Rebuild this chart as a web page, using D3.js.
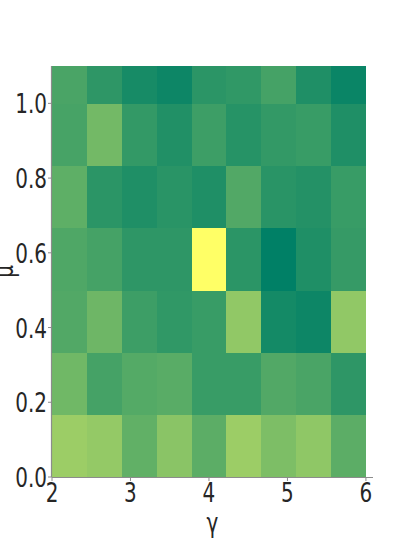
<!DOCTYPE html>
<html>
<head>
<meta charset="utf-8">
<script src="https://cdn.jsdelivr.net/npm/d3@7"></script>
<style>
  body { margin: 0; background: #fff; }
  svg { display: block; }
</style>
</head>
<body>
<svg id="chart" width="415" height="545"></svg>
<script>
// gamma columns (left edges), mu rows (bottom edges)
var gammaEdges = [2, 2.444, 2.889, 3.333, 3.778, 4.222, 4.667, 5.111, 5.556, 6]
var muEdges = [0, 0.1667, 0.3333, 0.5, 0.6667, 0.8333, 1.0, 1.1667]

// cell values, rows from bottom (mu=0) to top
var row0 = [0.61, 0.58, 0.38, 0.54, 0.36, 0.61, 0.49, 0.56, 0.36]
var row1 = [0.44, 0.27, 0.33, 0.35, 0.22, 0.22, 0.32, 0.29, 0.18]
var row2 = [0.32, 0.43, 0.24, 0.19, 0.22, 0.57, 0.08, 0.05, 0.57]
var row3 = [0.31, 0.27, 0.18, 0.18, 1.00, 0.17, 0.00, 0.12, 0.21]
var row4 = [0.37, 0.17, 0.12, 0.16, 0.12, 0.32, 0.16, 0.14, 0.22]
var row5 = [0.28, 0.45, 0.20, 0.13, 0.24, 0.15, 0.20, 0.22, 0.12]
var row6 = [0.29, 0.18, 0.09, 0.05, 0.17, 0.19, 0.27, 0.12, 0.04]
var rows = [row0, row1, row2, row3, row4, row5, row6]

var xTicks = [2, 3, 4, 5, 6]
var yTicks = [0.0, 0.2, 0.4, 0.6, 0.8, 1.0]

var svg = d3.select("#chart")

var plotLeft = 52, plotRight = 373, plotTop = 66, plotBottom = 477
var xScale = d3.scaleLinear().domain([2, 6.09]).range([plotLeft, plotRight])
var yScale = d3.scaleLinear().domain([0, 1.1]).range([plotBottom, plotTop])

// matplotlib "summer" colormap
var summer = function(t) { return d3.rgb(255 * t, 255 * (0.5 + 0.5 * t), 102) }

svg.append("clipPath").attr("id", "plotClip")
  .append("rect")
  .attr("x", plotLeft).attr("y", plotTop)
  .attr("width", plotRight - plotLeft).attr("height", plotBottom - plotTop)

var cells = []
rows.forEach(function(r, j) {
  r.forEach(function(v, i) { cells.push({i: i, j: j, v: v}) })
})

svg.append("g")
  .attr("clip-path", "url(#plotClip)")
  .attr("shape-rendering", "crispEdges")
  .selectAll("rect")
  .data(cells)
  .enter().append("rect")
  .attr("x", function(d) { return xScale(gammaEdges[d.i]) })
  .attr("y", function(d) { return yScale(muEdges[d.j + 1]) })
  .attr("width", function(d) { return xScale(gammaEdges[d.i + 1]) - xScale(gammaEdges[d.i]) + 0.5 })
  .attr("height", function(d) { return yScale(muEdges[d.j]) - yScale(muEdges[d.j + 1]) + 0.5 })
  .attr("fill", function(d) { return summer(d.v) })

var tickColor = "#8c8c8c"
var squeeze = 0.74

// x axis
var xAxis = svg.append("g")
xAxis.append("line")
  .attr("x1", plotLeft).attr("x2", plotRight)
  .attr("y1", plotBottom + 0.5).attr("y2", plotBottom + 0.5)
  .attr("stroke", tickColor).attr("stroke-width", 1.2)
xTicks.forEach(function(t) {
  var x = xScale(t)
  xAxis.append("line")
    .attr("x1", x).attr("x2", x)
    .attr("y1", plotBottom).attr("y2", plotBottom + 4)
    .attr("stroke", tickColor).attr("stroke-width", 1)
  xAxis.append("text")
    .attr("transform", "translate(" + x + "," + (plotBottom + 25) + ")scale(" + squeeze + ",1)")
    .attr("text-anchor", "middle")
    .attr("font-family", "DejaVu Sans")
    .attr("font-size", "27px")
    .attr("fill", "#262626")
    .text(t)
})

// y axis
var yAxis = svg.append("g")
yAxis.append("line")
  .attr("x1", plotLeft - 0.5).attr("x2", plotLeft - 0.5)
  .attr("y1", plotTop).attr("y2", plotBottom)
  .attr("stroke", tickColor).attr("stroke-width", 1.2)
yTicks.forEach(function(t) {
  var y = yScale(t)
  yAxis.append("line")
    .attr("x1", plotLeft - 4).attr("x2", plotLeft)
    .attr("y1", y).attr("y2", y)
    .attr("stroke", tickColor).attr("stroke-width", 1)
  yAxis.append("text")
    .attr("transform", "translate(" + (plotLeft - 5) + "," + (y + 10) + ")scale(" + squeeze + ",1)")
    .attr("text-anchor", "end")
    .attr("font-family", "DejaVu Sans")
    .attr("font-size", "27px")
    .attr("fill", "#262626")
    .text(d3.format(".1f")(t))
})

// axis names
svg.append("text")
  .attr("transform", "translate(" + ((plotLeft + plotRight) / 2) + "," + 532 + ")scale(" + squeeze + ",1)")
  .attr("text-anchor", "middle")
  .attr("font-family", "DejaVu Sans")
  .attr("font-size", "27px")
  .attr("fill", "#262626")
  .text("γ")

svg.append("text")
  .attr("transform", "translate(" + 13 + "," + ((plotTop + plotBottom) / 2) + ")rotate(-90)scale(" + squeeze + ",1)")
  .attr("text-anchor", "middle")
  .attr("font-family", "DejaVu Sans")
  .attr("font-size", "27px")
  .attr("fill", "#262626")
  .text("μ")
</script>
</body>
</html>
